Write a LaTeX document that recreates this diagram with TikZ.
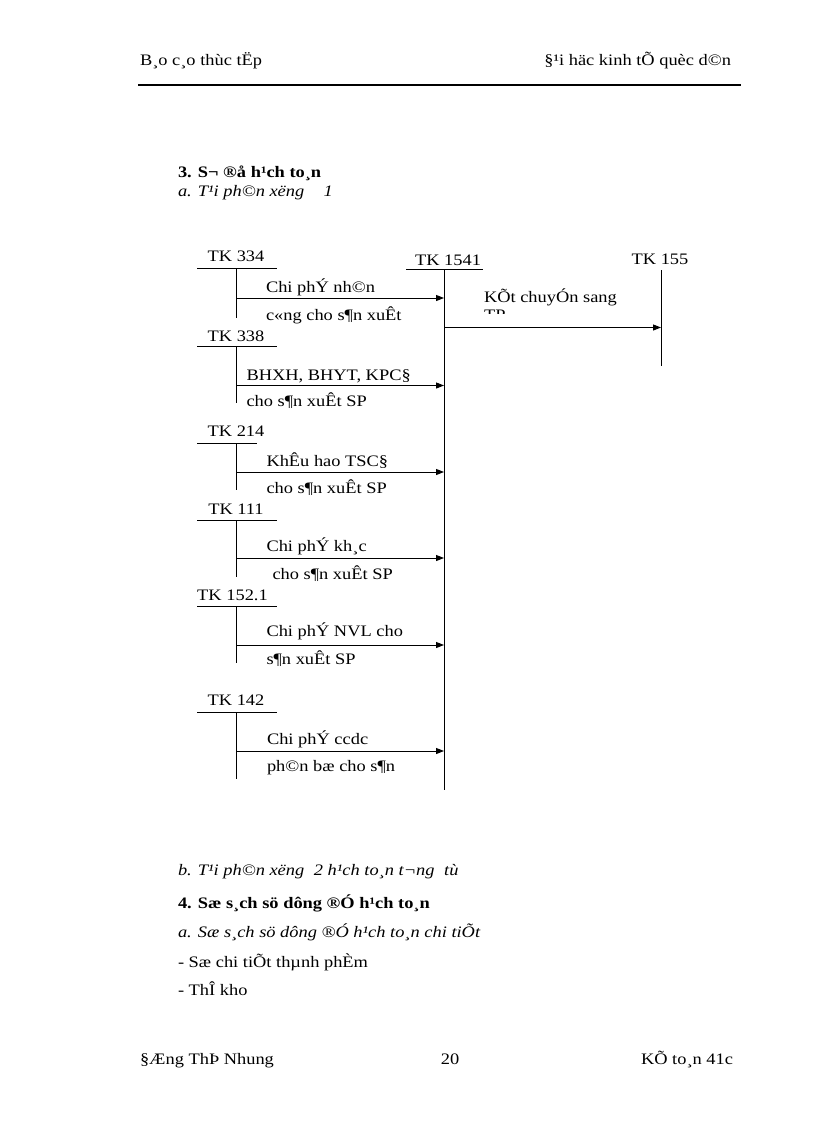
\documentclass[tikz,border=0pt]{standalone}
\usepackage{fontspec}
\setmainfont[FakeStretch=1.15]{Liberation Serif}
\usetikzlibrary{arrows.meta}
\begin{document}
\begin{tikzpicture}[x=0.75pt,y=-0.75pt,
  every node/.style={inner sep=0pt,outer sep=0pt,font=\fontsize{12}{14}\selectfont},
  lbl/.style={anchor=base west},
  acct/.style={anchor=base},
  tline/.style={line width=0.75pt},
  flow/.style={line width=0.75pt,-{Triangle[length=6pt,width=4.5pt]}}]
\useasboundingbox (0,0) rectangle (816,1123);
% header
\node[lbl] (h1) at (140,66) {B¸o c¸o thùc tËp};
\node[anchor=base east] (h2) at (731,66) {§¹i häc kinh tÕ quèc d©n};
\coordinate (rL) at (138,85); \coordinate (rR) at (741,85);
\draw[line width=1pt] (rL) -- (rR);
% headings
\node[lbl,font=\fontsize{12}{14}\selectfont\bfseries] (s3) at (178,178) {3. S¬ ®å h¹ch to¸n};
\node[lbl,font=\fontsize{12}{14}\selectfont\itshape] (s3a) at (178,197) {a. T¹i ph©n xëng\hspace{1.2em}1};
% main account TK 1541
\node[acct] (t1541) at (448,265) {TK 1541};
\coordinate (m1) at (406,269); \coordinate (m2) at (483,269);
\coordinate (mt) at (444,269); \coordinate (mb) at (444,790);
\draw[tline] (m1) -- (m2); \draw[tline] (mt) -- (mb);
% TK 155
\node[acct] (t155) at (660,264) {TK 155};
\coordinate (k1) at (661,270); \coordinate (k2) at (661,366);
\draw[tline] (k1) -- (k2);
\coordinate (mo) at (444,327.5); \coordinate (ki) at (661,327.5);
\draw[flow] (mo) -- (ki);
\node[lbl] (kc) at (484,302.5) {KÕt chuyÓn sang};
\begin{scope}
\clip (470,250) rectangle (640,313);
\node[lbl] (tp) at (484,320.5) {TP};
\end{scope}
% TK 334
\node[acct] (t334) at (236,262) {TK 334};
\coordinate (a1) at (197,268); \coordinate (a2) at (277,268);
\coordinate (at) at (236,268); \coordinate (ab) at (236,318);
\draw[tline] (a1) -- (a2); \draw[tline] (at) -- (ab);
\coordinate (ao) at (236,298); \coordinate (ai) at (444,298);
\draw[flow] (ao) -- (ai);
\node[lbl] (l1a) at (266,292.5) {Chi phÝ nh©n};
\node[lbl] (l1b) at (266,320) {c«ng cho s¶n xuÊt};
% TK 338
\node[acct] (t338) at (236,341) {TK 338};
\coordinate (b1) at (197,346.5); \coordinate (b2) at (277,346.5);
\coordinate (bt) at (236,346.5); \coordinate (bb) at (236,403);
\draw[tline] (b1) -- (b2); \draw[tline] (bt) -- (bb);
\coordinate (bo) at (236,385.5); \coordinate (bi) at (444,385.5);
\draw[flow] (bo) -- (bi);
\node[lbl] (l2a) at (246.5,380) {BHXH, BHYT, KPC§};
\node[lbl] (l2b) at (246.5,406.5) {cho s¶n xuÊt SP};
% TK 214
\node[acct] (t214) at (236,436.5) {TK 214};
\coordinate (c1) at (197,443); \coordinate (c2) at (257,443);
\coordinate (ct) at (236,443); \coordinate (cb) at (236,490);
\draw[tline] (c1) -- (c2); \draw[tline] (ct) -- (cb);
\coordinate (co) at (236,472); \coordinate (ci) at (444,472);
\draw[flow] (co) -- (ci);
\node[lbl] (l3a) at (266.5,466.5) {KhÊu hao TSC§};
\node[lbl] (l3b) at (266.5,493) {cho s¶n xuÊt SP};
% TK 111
\node[acct] (t111) at (236,514) {TK 111};
\coordinate (d1) at (197,520); \coordinate (d2) at (277,520);
\coordinate (dt) at (236,520); \coordinate (db) at (236,577);
\draw[tline] (d1) -- (d2); \draw[tline] (dt) -- (db);
\coordinate (do) at (236,558); \coordinate (di) at (444,558);
\draw[flow] (do) -- (di);
\node[lbl] (l4a) at (266.5,551.5) {Chi phÝ kh¸c};
\node[lbl] (l4b) at (272.5,579) {cho s¶n xuÊt SP};
% TK 152.1
\node[acct] (t152) at (232.5,600) {TK 152.1};
\coordinate (e1) at (197,606); \coordinate (e2) at (277,606);
\coordinate (et) at (236,606); \coordinate (eb) at (236,663);
\draw[tline] (e1) -- (e2); \draw[tline] (et) -- (eb);
\coordinate (eo) at (236,645); \coordinate (ei) at (444,645);
\draw[flow] (eo) -- (ei);
\node[lbl] (l5a) at (266.5,636.5) {Chi phÝ NVL cho};
\node[lbl] (l5b) at (266.5,664) {s¶n xuÊt SP};
% TK 142
\node[acct] (t142) at (236,705.5) {TK 142};
\coordinate (f1) at (197,712); \coordinate (f2) at (277,712);
\coordinate (ft) at (236,712); \coordinate (fb) at (236,779);
\draw[tline] (f1) -- (f2); \draw[tline] (ft) -- (fb);
\coordinate (fo) at (236,751); \coordinate (fi) at (444,751);
\draw[flow] (fo) -- (fi);
\node[lbl] (l6a) at (267,744) {Chi phÝ ccdc};
\node[lbl] (l6b) at (267,771.5) {ph©n bæ cho s¶n};
% lower text
\node[lbl,font=\fontsize{12}{14}\selectfont\itshape] (s3b) at (178,875) {b. T¹i ph©n xëng\hspace{0.6em}2 h¹ch to¸n t¬ng\hspace{0.6em}tù};
\node[lbl,font=\fontsize{12}{14}\selectfont\bfseries] (s4) at (178,908) {4. Sæ s¸ch sö dông ®Ó h¹ch to¸n};
\node[lbl,font=\fontsize{12}{14}\selectfont\itshape] (s4a) at (178,937) {a. Sæ s¸ch sö dông ®Ó h¹ch to¸n chi tiÕt};
\node[lbl] (i1) at (178,967) {- Sæ chi tiÕt thµnh phÈm};
\node[lbl] (i2) at (178,995) {- ThÎ kho};
% footer
\node[lbl] (fa) at (140,1064.5) {§Æng ThÞ Nhung};
\node[acct] (fbn) at (450,1064.5) {20};
\node[anchor=base east] (fc) at (733,1064.5) {KÕ to¸n 41c};
\end{tikzpicture}
\end{document}
